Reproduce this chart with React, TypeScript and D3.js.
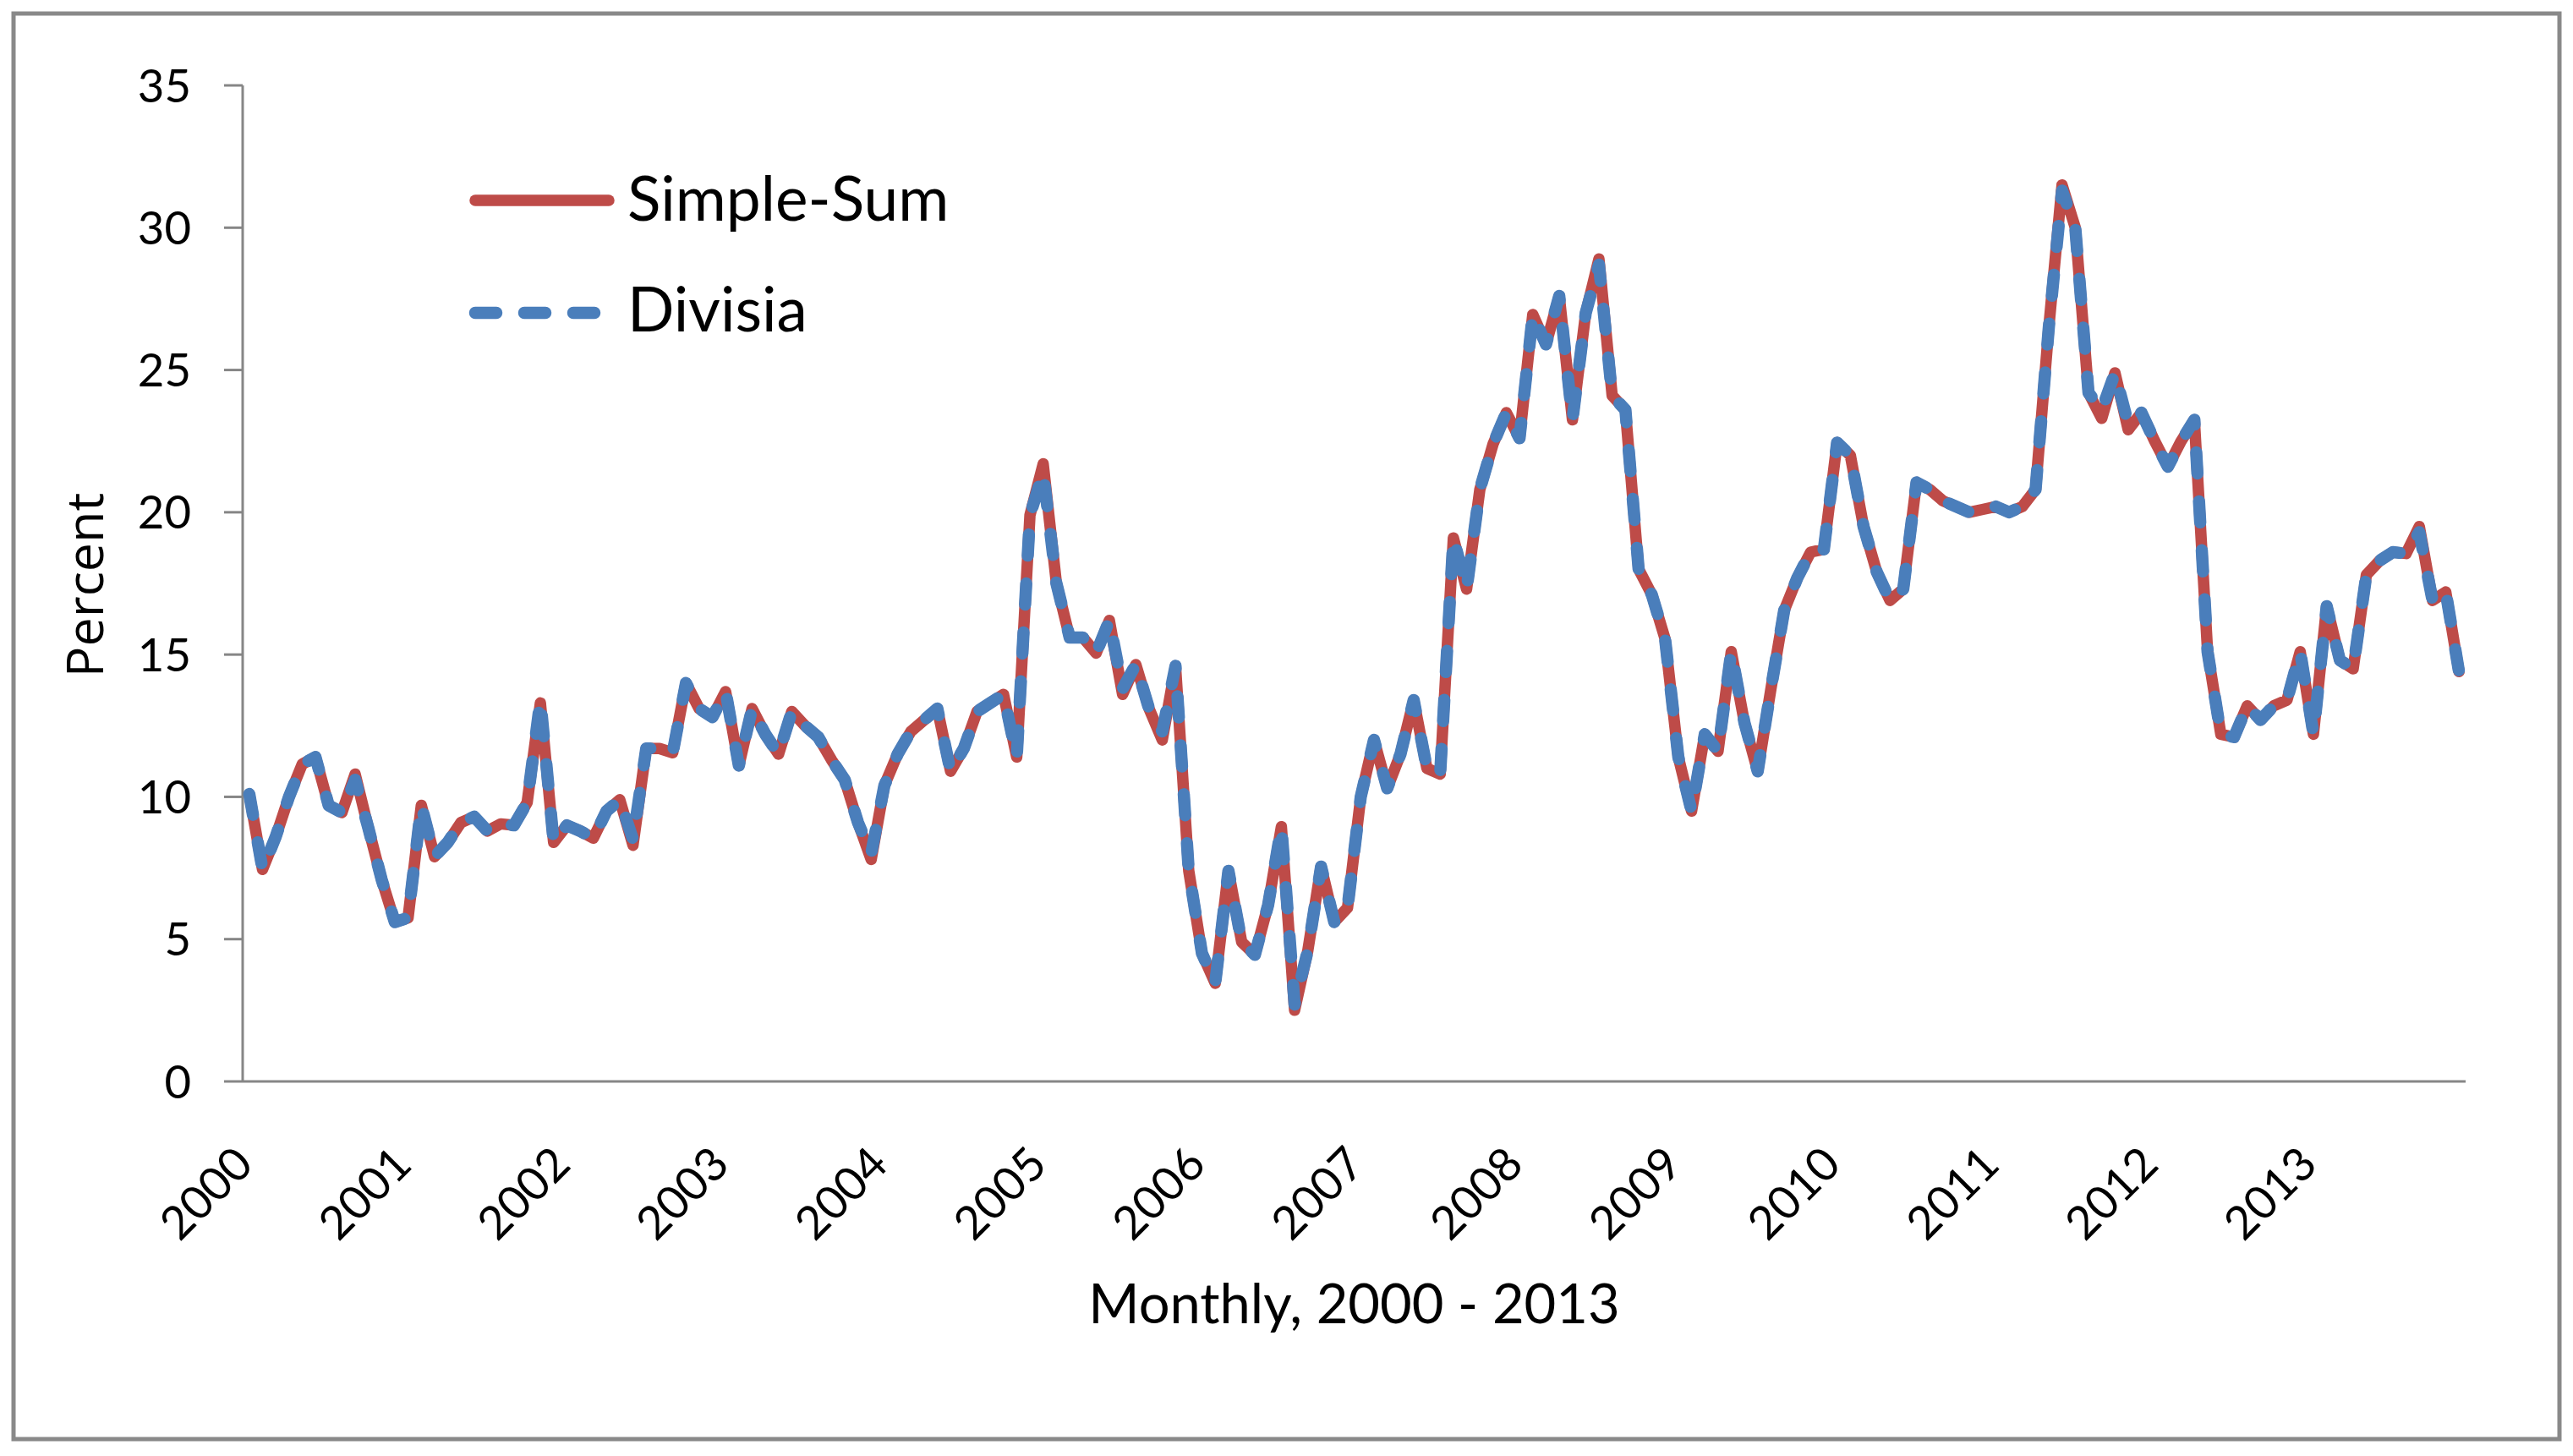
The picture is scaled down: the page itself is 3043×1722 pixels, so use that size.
import React from 'react';
import * as d3 from 'd3';

const W = 3043;
const H = 1722;

const years = ['2000', '2001', '2002', '2003', '2004', '2005', '2006', '2007', '2008', '2009', '2010', '2011', '2012', '2013'];

// Divisia (blue dashed), monthly 2000-2013
const divisia = [
  10.1, 7.45, 8.6, 10.0, 11.15, 11.4, 9.7, 9.45, 10.6, 8.9, 7.1, 5.6,
  5.75, 9.7, 7.9, 8.4, 9.1, 9.3, 8.8, 9.05, 9.0, 9.8, 13.4, 8.4,
  9.0, 8.8, 8.55, 9.5, 9.9, 8.5, 11.7, 11.7, 11.55, 14.0, 13.1, 12.8,
  13.7, 11.1, 13.1, 12.2, 11.5, 13.0, 12.5, 12.1, 11.3, 10.6, 9.1, 8.0,
  10.4, 11.5, 12.3, 12.7, 13.1, 10.9, 11.7, 13.0, 13.3, 13.6, 11.4, 19.9,
  21.4, 17.5, 15.6, 15.6, 15.05, 16.2, 13.8, 14.65, 13.1, 12.3, 14.6, 7.4,
  4.5, 3.45, 7.4, 4.9, 4.45, 6.2, 8.95, 2.7, 4.6, 7.55, 5.6, 6.1,
  10.0, 12.0, 10.3, 11.5, 13.4, 11.0, 10.8, 19.1, 17.3, 20.8, 22.4, 23.5,
  22.6, 26.95, 25.9, 27.6, 23.25, 27.0, 28.7, 24.1, 23.6, 18.0, 17.1, 15.55,
  11.4, 9.5, 12.2, 11.6, 15.1, 12.6, 10.9, 13.8, 16.55, 17.7, 18.6, 18.7,
  22.45, 22.0, 19.5, 17.9, 16.9, 17.3, 21.05, 20.8, 20.4, 20.2, 20.0, 20.1,
  20.2, 20.0, 20.2, 20.8, 26.5, 31.3, 30.0, 24.2, 23.6, 24.9, 23.1, 23.5,
  22.5, 21.6, 22.5, 23.25, 15.1, 12.2, 12.1, 13.2, 12.7, 13.2, 13.4, 15.1,
  12.2, 16.7, 14.8, 14.5, 17.8, 18.3, 18.6, 18.55, 19.3, 16.9, 17.2, 14.4,
];

// Simple-Sum (red solid), monthly 2000-2013
const simpleSum = [
  10.1, 7.45, 8.6, 10.0, 11.15, 11.4, 9.7, 9.45, 10.8, 8.9, 7.1, 5.6,
  5.75, 9.7, 7.9, 8.4, 9.1, 9.3, 8.8, 9.05, 9.0, 9.8, 13.3, 8.4,
  9.0, 8.8, 8.55, 9.5, 9.9, 8.3, 11.7, 11.7, 11.55, 14.0, 13.1, 12.8,
  13.7, 11.1, 13.1, 12.2, 11.5, 13.0, 12.5, 12.1, 11.3, 10.6, 9.1, 7.8,
  10.4, 11.5, 12.3, 12.7, 13.1, 10.9, 11.7, 13.0, 13.3, 13.6, 11.4, 19.9,
  21.7, 17.5, 15.6, 15.6, 15.05, 16.2, 13.6, 14.65, 13.1, 12.0, 14.6, 7.4,
  4.5, 3.45, 7.4, 4.9, 4.45, 6.2, 8.95, 2.5, 4.6, 7.55, 5.6, 6.1,
  10.0, 12.0, 10.3, 11.5, 13.4, 11.0, 10.8, 19.1, 17.3, 20.8, 22.4, 23.5,
  22.6, 26.95, 25.9, 27.6, 23.25, 27.0, 28.9, 24.1, 23.6, 18.0, 17.1, 15.55,
  11.4, 9.5, 12.2, 11.6, 15.1, 12.6, 10.9, 13.8, 16.55, 17.7, 18.6, 18.7,
  22.45, 22.0, 19.5, 17.9, 16.9, 17.3, 21.05, 20.8, 20.4, 20.2, 20.0, 20.1,
  20.2, 20.0, 20.2, 20.8, 26.5, 31.5, 30.0, 24.2, 23.3, 24.9, 22.9, 23.5,
  22.5, 21.6, 22.5, 23.25, 15.1, 12.2, 12.1, 13.2, 12.7, 13.2, 13.4, 15.1,
  12.2, 16.7, 14.8, 14.5, 17.8, 18.3, 18.6, 18.55, 19.5, 16.9, 17.2, 14.4,
];

const yTicks = [0, 5, 10, 15, 20, 25, 30, 35];

const seriesNames = ['Simple-Sum', 'Divisia'];

const RED = '#BE4B48';
const BLUE = '#4A7EBB';
const AXIS = '#868686';
const CAL = 'Lato, "Noto Sans", sans-serif';

export default function App() {
  const left = 287;
  const right = 2916;
  const top = 101;
  const bottom = 1279;

  const idx = d3.range(divisia.length);
  const x = d3.scalePoint<number>().domain(idx).range([left, right]).padding(0.5);
  const y = d3.scaleLinear().domain([0, 35]).range([bottom, top]);

  const line = d3
    .line<number>()
    .x((_, i) => x(i) as number)
    .y((d) => y(d));

  const redPath = line(simpleSum) || '';
  const bluePath = line(divisia) || '';

  const dash = '25 33';
  const redW = 13.5;
  const blueW = 14.5;

  return (
    <div style={{ position: 'absolute', left: 0, top: 0, width: W, height: H, background: '#fff' }}>
      <svg width={W} height={H} viewBox={`0 0 ${W} ${H}`} style={{ display: 'block' }}>
        <rect x={0} y={0} width={W} height={H} fill="#fff" />
        <rect x={16} y={16} width={3011} height={1686} fill="#fff" stroke="#898989" strokeWidth={5} />

        {/* y axis */}
        <line x1={left} x2={left} y1={top} y2={bottom} stroke={AXIS} strokeWidth={3} />
        {yTicks.map((t) => (
          <g key={t}>
            <line x1={left - 22} x2={left} y1={y(t)} y2={y(t)} stroke={AXIS} strokeWidth={3} />
            <text
              x={226}
              y={y(t)}
              dy="0.36em"
              textAnchor="end"
              fontFamily={CAL}
              fontSize={54.5}
              fill="#000"
            >
              {t}
            </text>
          </g>
        ))}
        {/* x axis */}
        <line x1={left} x2={right} y1={bottom} y2={bottom} stroke={AXIS} strokeWidth={3} />
        {years.map((yr, k) => {
          const xi = (x(k * 12) as number) + 7;
          return (
            <text
              key={yr}
              transform={`translate(${xi},${bottom + 101}) rotate(-45)`}
              textAnchor="end"
              fontFamily={CAL}
              fontSize={54.5}
              fill="#000"
            >
              {yr}
            </text>
          );
        })}

        {/* series */}
        <path d={redPath} fill="none" stroke={RED} strokeWidth={redW} strokeLinejoin="round" strokeLinecap="round" />
        <path
          d={bluePath}
          fill="none"
          stroke={BLUE}
          strokeWidth={blueW}
          strokeDasharray={dash}
          strokeLinejoin="round"
          strokeLinecap="round"
        />

        {/* axis titles */}
        <text x={(left + right) / 2} y={1565} textAnchor="middle" fontFamily={CAL} fontSize={65} fill="#000">
          Monthly, 2000 - 2013
        </text>
        <text
          transform={`translate(122,692) rotate(-90)`}
          textAnchor="middle"
          fontFamily='"Open Sans", "Noto Sans", sans-serif'
          fontSize={61}
          fill="#000"
        >
          Percent
        </text>

        {/* legend */}
        <line x1={562} x2={720} y1={237} y2={237} stroke={RED} strokeWidth={redW} strokeLinecap="round" />
        <text x={742} y={261} fontFamily={CAL} fontSize={73} fill="#000">
          {seriesNames[0]}
        </text>
        <line
          x1={562}
          x2={720}
          y1={370}
          y2={370}
          stroke={BLUE}
          strokeWidth={blueW}
          strokeDasharray={dash}
          strokeLinecap="round"
        />
        <text x={742} y={392} fontFamily={CAL} fontSize={73} fill="#000">
          {seriesNames[1]}
        </text>
      </svg>
    </div>
  );
}
